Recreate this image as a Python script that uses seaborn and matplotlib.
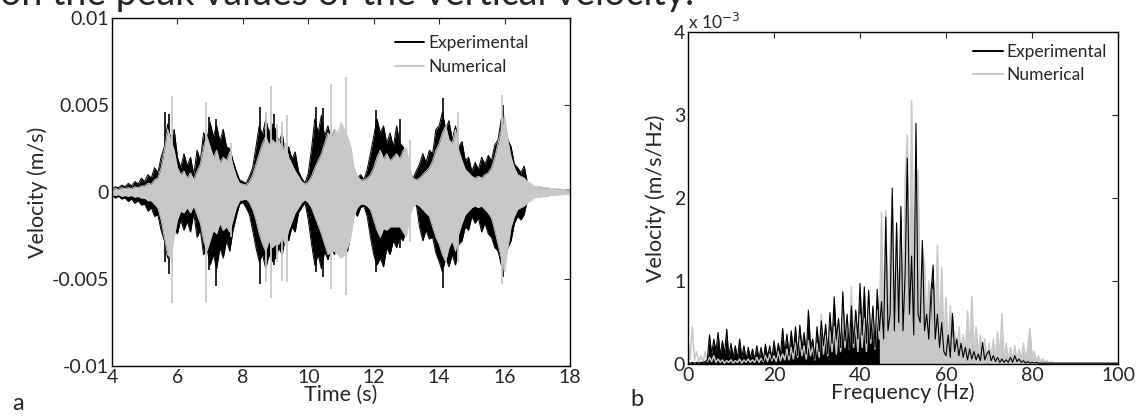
"""
Velocity comparison: time history (a) and spectrum (b),
experimental vs numerical.
"""

import numpy as np
import matplotlib
matplotlib.use('Agg')
import matplotlib.pyplot as plt
import seaborn as sns

sns.set_style('white')
plt.rcParams['font.family'] = ['Lato', 'DejaVu Sans']

# ---------------- data (velocities in 1e-3 m/s) ----------------
# time grid, 0.1 s steps from 4 to 18 s
time_s = np.round(np.arange(4.0, 18.01, 0.1), 1)

exp_upper = [
    0.2, 0.3, 0.25, 0.4, 0.3, 0.5, 0.35, 0.6, 0.45, 0.8,
    0.6, 1.0, 0.8, 1.4, 1.1, 2.0, 2.6, 3.9, 3.0, 3.6,
    2.0, 1.4, 2.2, 1.5, 2.0, 1.0, 2.4, 1.8, 3.4, 3.0,
    4.0, 3.2, 3.8, 2.9, 3.6, 2.6, 2.5, 1.8, 1.2, 0.7,
    0.6, 0.5, 0.9, 1.4, 2.6, 3.8, 3.3, 4.2, 3.4, 3.9,
    3.6, 2.8, 3.4, 2.2, 2.6, 1.9, 2.3, 1.2, 0.8, 0.5,
    1.1, 2.5, 4.2, 3.4, 4.4, 3.2, 3.8, 3.0, 3.6, 2.5,
    3.2, 2.6, 3.0, 2.0, 1.2, 0.8, 1.0, 0.7, 1.3, 2.2,
    3.2, 4.2, 3.4, 3.8, 2.8, 3.4, 2.6, 3.8, 2.8, 2.6,
    1.8, 1.2, 0.8, 1.2, 1.6, 2.2, 1.7, 2.4, 2.2, 3.6,
    3.8, 4.6, 3.6, 4.1, 3.0, 3.8, 2.6, 2.9, 1.8, 2.0,
    1.2, 1.7, 1.3, 2.0, 1.6, 2.1, 1.8, 2.7, 3.0, 4.2,
    4.0, 3.0, 2.6, 1.6, 1.4, 1.1, 1.5, 0.5, 0.3, 0.25,
    0.2, 0.25, 0.18, 0.2, 0.15, 0.17, 0.12, 0.14, 0.1, 0.12,
    0.1,
]
exp_lower = [
    -0.2, -0.35, -0.25, -0.4, -0.35, -0.55, -0.4, -0.65, -0.5, -0.75,
    -0.7, -1.1, -0.9, -1.4, -1.3, -2.2, -2.8, -3.8, -2.6, -2.2,
    -2.4, -1.6, -2.2, -1.7, -2.3, -1.2, -2.6, -2.2, -3.6, -3.2,
    -4.2, -3.6, -4.4, -3.2, -3.8, -2.8, -3.4, -2.2, -1.4, -0.7,
    -0.6, -0.9, -1.3, -2.2, -3.2, -4.0, -3.6, -4.4, -3.6, -4.0,
    -3.8, -3.2, -3.6, -2.6, -2.8, -2.0, -2.3, -1.2, -0.9, -0.6,
    -1.6, -3.0, -4.2, -3.6, -4.4, -3.4, -3.9, -3.2, -3.6, -2.8,
    -3.4, -3.0, -3.4, -2.4, -1.1, -1.4, -0.9, -0.8, -1.4, -2.6,
    -3.6, -4.2, -3.8, -4.3, -3.2, -3.6, -2.8, -3.2, -2.6, -2.8,
    -2.0, -1.2, -0.8, -0.7, -2.0, -2.8, -2.2, -2.7, -2.6, -3.5,
    -4.0, -4.6, -3.8, -4.3, -3.6, -4.2, -3.0, -2.8, -2.0, -2.2,
    -1.4, -1.8, -1.5, -2.3, -1.8, -2.4, -2.6, -3.2, -3.4, -4.2,
    -4.0, -3.2, -2.8, -1.8, -1.4, -1.6, -1.3, -0.4, -0.25, -0.2,
    -0.18, -0.2, -0.15, -0.17, -0.12, -0.14, -0.1, -0.12, -0.1, -0.08,
    -0.08,
]
num_upper = [
    0.15, 0.2, 0.15, 0.25, 0.2, 0.25, 0.2, 0.3, 0.25, 0.35,
    0.35, 0.5, 0.45, 0.7, 0.8, 1.4, 2.4, 3.6, 3.0, 2.4,
    1.4, 1.0, 1.2, 0.8, 1.1, 0.7, 1.2, 1.6, 2.6, 3.2,
    2.6, 2.0, 2.4, 1.7, 2.0, 1.8, 2.3, 1.5, 0.9, 0.5,
    0.45, 0.4, 0.6, 1.0, 1.6, 2.2, 2.8, 3.2, 2.7, 3.0,
    2.8, 3.0, 2.4, 2.8, 2.0, 1.6, 1.2, 0.9, 0.6, 0.45,
    0.6, 0.9, 1.4, 1.8, 2.2, 2.8, 3.4, 3.2, 3.6, 3.4,
    4.0, 3.6, 3.2, 2.6, 1.4, 0.9, 0.7, 0.7, 0.8, 1.0,
    1.4, 2.0, 2.4, 1.9, 2.2, 1.8, 2.0, 2.2, 1.9, 2.4,
    2.6, 1.4, 0.8, 0.7, 0.8, 1.0, 1.2, 1.4, 1.8, 2.4,
    2.8, 3.4, 3.8, 3.0, 2.8, 3.6, 2.4, 1.8, 1.3, 1.1,
    0.9, 0.8, 0.9, 0.8, 1.0, 1.1, 1.4, 2.0, 2.8, 3.6,
    4.4, 3.0, 2.0, 1.4, 1.0, 0.9, 0.8, 0.6, 0.5, 0.35,
    0.3, 0.3, 0.25, 0.25, 0.2, 0.2, 0.18, 0.15, 0.15, 0.12,
    0.12,
]
num_lower = [
    -0.15, -0.2, -0.15, -0.25, -0.2, -0.25, -0.2, -0.3, -0.25, -0.35,
    -0.35, -0.5, -0.5, -0.7, -0.9, -1.6, -2.6, -3.6, -3.8, -2.6,
    -1.6, -1.1, -1.2, -0.9, -1.2, -0.8, -1.3, -1.8, -2.8, -3.4,
    -2.8, -2.2, -2.4, -1.8, -2.2, -2.0, -2.3, -1.6, -0.9, -0.5,
    -0.45, -0.4, -0.6, -1.0, -1.6, -2.4, -3.0, -3.4, -2.8, -3.2,
    -3.0, -3.0, -2.6, -3.0, -2.2, -1.7, -1.2, -0.9, -0.6, -0.45,
    -0.6, -0.9, -1.4, -1.9, -2.4, -3.0, -3.6, -3.4, -3.4, -3.6,
    -3.8, -3.6, -3.2, -2.6, -1.4, -0.9, -0.7, -0.7, -0.8, -1.0,
    -1.6, -2.2, -2.6, -2.1, -2.2, -2.0, -2.0, -2.0, -2.0, -2.3,
    -2.6, -1.4, -0.8, -0.7, -0.8, -1.0, -1.2, -1.4, -2.0, -2.6,
    -3.0, -3.6, -4.0, -3.2, -2.8, -3.4, -2.4, -1.8, -1.3, -1.1,
    -0.9, -0.8, -0.9, -0.8, -1.0, -1.2, -1.5, -2.2, -3.0, -3.8,
    -4.6, -3.2, -2.0, -1.4, -1.0, -0.9, -0.8, -0.6, -0.5, -0.35,
    -0.3, -0.3, -0.25, -0.25, -0.2, -0.2, -0.18, -0.15, -0.15, -0.12,
    -0.12,
]
# thin isolated peaks of both records
exp_spike_time = [5.62, 5.75, 6.98, 7.17, 8.53, 8.95, 10.25, 10.45, 12.08, 12.8, 14.13, 15.96]
exp_spike_top = [4.6, 4.5, 4.3, 4.2, 4.9, 4.5, 4.9, 4.8, 4.7, 4.2, 5.4, 5.0]
exp_spike_bottom = [-4.0, -4.7, -4.5, -5.4, -5.3, -4.2, -4.6, -4.9, -4.6, -3.2, -5.5, -4.9]

num_spike_time = [5.83, 6.87, 7.65, 8.72, 8.86, 9.05, 9.2, 9.34, 10.69, 11.15, 13.1, 14.58, 15.93]
num_spike_top = [5.5, 5.2, 2.8, 4.6, 6.1, 3.9, 4.0, 4.4, 6.2, 6.6, 3.0, 4.6, 5.6]
num_spike_bottom = [-6.4, -6.3, -2.6, -5.2, -6.1, -4.0, -5.1, -5.2, -5.6, -5.9, -2.9, -4.0, -5.3]

# spectrum, 0.5 Hz steps from 0 to 100 Hz (1e-3 m/s/Hz)
freq_hz = np.round(np.arange(0.0, 100.01, 0.5), 1)

exp_spectrum = [
    0.02, 0.01, 0.02, 0.01, 0.02, 0.01, 0.02, 0.02, 0.03, 0.05,
    0.35, 0.12, 0.30, 0.15, 0.38, 0.10, 0.28, 0.12, 0.42, 0.08,
    0.25, 0.08, 0.22, 0.06, 0.30, 0.08, 0.22, 0.05, 0.20, 0.07,
    0.18, 0.05, 0.22, 0.06, 0.20, 0.04, 0.24, 0.08, 0.22, 0.06,
    0.28, 0.08, 0.25, 0.10, 0.43, 0.12, 0.36, 0.10, 0.40, 0.14,
    0.45, 0.10, 0.47, 0.18, 0.38, 0.12, 0.65, 0.20, 0.30, 0.06,
    0.45, 0.15, 0.52, 0.22, 0.48, 0.12, 0.62, 0.25, 0.81, 0.30,
    0.55, 0.20, 0.87, 0.28, 0.60, 0.18, 0.70, 0.25, 0.65, 0.30,
    0.97, 0.35, 0.93, 0.25, 0.89, 0.30, 0.70, 0.20, 0.90, 0.40,
    0.75, 0.30, 1.77, 0.40, 0.60, 2.12, 0.40, 1.70, 0.50, 1.90,
    0.40, 1.10, 2.48, 0.60, 1.30, 0.35, 2.90, 0.60, 0.50, 1.49,
    0.40, 0.60, 0.30, 0.87, 1.19, 0.30, 0.60, 0.20, 0.50, 0.15,
    0.10, 0.35, 0.08, 0.61, 0.15, 0.30, 0.10, 0.25, 0.08, 0.20,
    0.05, 0.18, 0.06, 0.15, 0.05, 0.12, 0.04, 0.26, 0.05, 0.12,
    0.16, 0.04, 0.10, 0.03, 0.08, 0.02, 0.06, 0.02, 0.05, 0.02,
    0.08, 0.02, 0.10, 0.03, 0.06, 0.02, 0.04, 0.01, 0.03, 0.01,
    0.02, 0.01, 0.02, 0.01, 0.01, 0.01, 0.01, 0.01, 0.01, 0.01,
    0.01, 0.01, 0.01, 0.01, 0.01, 0.01, 0.01, 0.01, 0.01, 0.01,
    0.01, 0.01, 0.01, 0.01, 0.01, 0.01, 0.01, 0.01, 0.01, 0.01,
    0.01, 0.01, 0.01, 0.01, 0.01, 0.01, 0.01, 0.01, 0.01, 0.01,
    0.01,
]
num_spectrum = [
    0.30, 0.05, 0.45, 0.05, 0.15, 0.02, 0.10, 0.02, 0.15, 0.03,
    0.08, 0.03, 0.10, 0.02, 0.06, 0.02, 0.05, 0.01, 0.04, 0.02,
    0.05, 0.01, 0.04, 0.02, 0.06, 0.01, 0.05, 0.02, 0.06, 0.02,
    0.05, 0.02, 0.08, 0.02, 0.07, 0.03, 0.10, 0.03, 0.12, 0.04,
    0.10, 0.03, 0.15, 0.04, 0.12, 0.05, 0.18, 0.05, 0.20, 0.06,
    0.25, 0.08, 0.30, 0.10, 0.22, 0.06, 0.28, 0.10, 0.20, 0.05,
    0.25, 0.08, 0.60, 0.12, 0.35, 0.10, 0.40, 0.15, 0.45, 0.12,
    0.50, 0.15, 0.60, 0.20, 0.55, 0.18, 0.93, 0.20, 0.50, 0.15,
    0.60, 0.20, 0.55, 0.15, 0.70, 0.25, 0.60, 0.18, 0.65, 0.30,
    1.83, 0.40, 1.85, 0.50, 1.40, 2.00, 0.60, 1.50, 0.45, 1.60,
    0.50, 2.20, 2.76, 0.80, 3.17, 1.00, 2.00, 2.34, 0.60, 1.40,
    1.20, 0.40, 1.00, 0.30, 0.90, 0.40, 1.43, 0.30, 1.16, 0.25,
    0.80, 0.15, 0.70, 0.20, 0.40, 0.10, 0.45, 0.15, 0.35, 0.10,
    0.64, 0.15, 0.81, 0.12, 0.45, 0.10, 0.35, 0.08, 0.30, 0.05,
    0.25, 0.05, 0.30, 0.06, 0.39, 0.08, 0.60, 0.05, 0.25, 0.04,
    0.20, 0.04, 0.22, 0.05, 0.18, 0.03, 0.25, 0.05, 0.20, 0.43,
    0.10, 0.15, 0.03, 0.10, 0.02, 0.06, 0.02, 0.04, 0.01, 0.03,
    0.01, 0.01, 0.01, 0.01, 0.01, 0.01, 0.01, 0.01, 0.01, 0.01,
    0.01, 0.01, 0.01, 0.01, 0.01, 0.01, 0.01, 0.01, 0.01, 0.01,
    0.01, 0.01, 0.01, 0.01, 0.01, 0.01, 0.01, 0.01, 0.01, 0.01,
    0.01,
]

time_ticks = [4, 6, 8, 10, 12, 14, 16, 18]
vel_ticks = [-0.01, -0.005, 0, 0.005, 0.01]
vel_tick_labels = ['-0.01', '-0.005', '0', '0.005', '0.01']
freq_ticks = [0, 20, 40, 60, 80, 100]
spec_ticks = [0, 1, 2, 3, 4]

BLACK = '#000000'
GREY = '#c8c8c8'
W, H = 1137, 417
TICK_FS = 14
LABEL_FS = 15.5
LEGEND_FS = 12.5


def box_axes(ax):
    ax.tick_params(direction='in', top=True, right=True, length=4,
                   width=0.8, labelsize=TICK_FS, pad=2)
    for sp in ax.spines.values():
        sp.set_linewidth(1.0)
        sp.set_color('black')
        sp.set_zorder(10)


def add_legend(ax, anchor):
    h_exp = plt.Line2D([], [], color=BLACK, lw=1.4)
    h_num = plt.Line2D([], [], color=GREY, lw=1.4)
    ax.legend([h_exp, h_num], ['Experimental', 'Numerical'], loc='upper right',
              bbox_to_anchor=anchor, frameon=False, fontsize=LEGEND_FS,
              handlelength=1.7, handletextpad=0.25, labelspacing=0.45,
              borderpad=0, borderaxespad=0)


fig = plt.figure(figsize=(W / 100, H / 100), dpi=100)

# ---------------- (a) time history ----------------
ax1 = fig.add_axes([112 / W, (H - 366) / H, (570 - 112) / W, (366 - 18) / H])
e_up = np.array(exp_upper) * 1e-3
e_lo = np.array(exp_lower) * 1e-3
n_up = np.array(num_upper) * 1e-3
n_lo = np.array(num_lower) * 1e-3

# experimental first (underneath), numerical drawn over it
ax1.fill_between(time_s, e_lo, e_up, color=BLACK, lw=0, zorder=1)
sns.lineplot(x=time_s, y=e_up, ax=ax1, color=BLACK, lw=0.7, zorder=1.5)
sns.lineplot(x=time_s, y=e_lo, ax=ax1, color=BLACK, lw=0.7, zorder=1.5)
ax1.vlines(exp_spike_time, np.array(exp_spike_bottom) * 1e-3,
           np.array(exp_spike_top) * 1e-3, color=BLACK, lw=1.2, zorder=1.5)
ax1.fill_between(time_s, n_lo, n_up, color=GREY, lw=0, zorder=3)
sns.lineplot(x=time_s, y=n_up, ax=ax1, color=GREY, lw=0.7, zorder=3.5)
sns.lineplot(x=time_s, y=n_lo, ax=ax1, color=GREY, lw=0.7, zorder=3.5)
ax1.vlines(num_spike_time, np.array(num_spike_bottom) * 1e-3,
           np.array(num_spike_top) * 1e-3, color=GREY, lw=1.3, zorder=3.5)

ax1.set_xlim(4, 18)
ax1.set_ylim(-0.01, 0.01)
ax1.set_xticks(time_ticks)
ax1.set_yticks(vel_ticks)
ax1.set_yticklabels(vel_tick_labels)
ax1.set_xlabel('Time (s)', fontsize=LABEL_FS, labelpad=-1)
ax1.set_ylabel('Velocity (m/s)', fontsize=LABEL_FS, labelpad=3)
box_axes(ax1)
add_legend(ax1, (0.91, 0.95))

# ---------------- (b) spectrum ----------------
ax2 = fig.add_axes([688 / W, (H - 364) / H, (1118 - 688) / W, (364 - 32) / H])
# dense black band below ~45 Hz, grey mass dominating the main peak above it
ax2.fill_between(freq_hz, 0, exp_spectrum, color=BLACK, lw=0, zorder=1)
ax2.fill_between(freq_hz, 0, num_spectrum, where=freq_hz >= 44.5,
                 color=GREY, lw=0, zorder=3)
sns.lineplot(x=freq_hz, y=num_spectrum, ax=ax2, color=GREY, lw=1.1, zorder=3.5)
sns.lineplot(x=freq_hz, y=exp_spectrum, ax=ax2, color=BLACK, lw=0.8, zorder=4)

ax2.set_xlim(0, 100)
ax2.set_ylim(0, 4)
ax2.set_xticks(freq_ticks)
ax2.set_yticks(spec_ticks)
ax2.set_xlabel('Frequency (Hz)', fontsize=LABEL_FS, labelpad=-1)
ax2.set_ylabel('Velocity (m/s/Hz)', fontsize=LABEL_FS, labelpad=6)
box_axes(ax2)
ax2.text(0.0, 1.0, r'x 10$^{-3}$', transform=ax2.transAxes,
         fontsize=12.5, ha='left', va='bottom')
add_legend(ax2, (0.975, 0.965))

# panel letters and the clipped caption line above
fig.text(12 / W, 1 - 403 / H, 'a', fontsize=17, ha='left', va='center')
fig.text(630 / W, 1 - 400 / H, 'b', fontsize=17, ha='left', va='center')
fig.text(0.0, 1 - 5 / H, 'on the peak values of the vertical velocity.',
         fontsize=27, ha='left', va='baseline')

fig.savefig('out.png', dpi=100)
plt.close(fig)
